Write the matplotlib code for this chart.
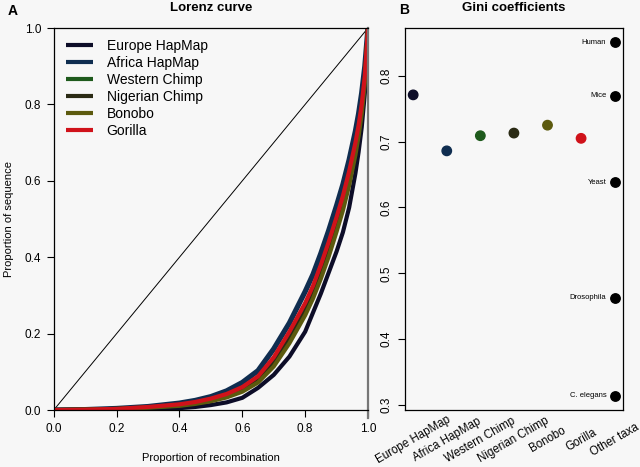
import matplotlib
matplotlib.use("Agg")
import matplotlib.pyplot as plt
import matplotlib.transforms as mtransforms

plt.rcParams['font.family'] = ['Liberation Sans', 'DejaVu Sans']

# Lorenz curves
lorenz_x = [0, 0.1, 0.2, 0.3, 0.4, 0.45, 0.5, 0.55, 0.6, 0.65, 0.7, 0.75,
            0.8, 0.825, 0.85, 0.875, 0.9, 0.92, 0.94, 0.96, 0.97, 0.98, 0.99, 1.0]
europe_y = [0, 0.0, 0.001, 0.003, 0.005, 0.008, 0.013, 0.02, 0.032, 0.058, 0.092, 0.14,
            0.205, 0.255, 0.305, 0.36, 0.415, 0.465, 0.53, 0.62, 0.675, 0.74, 0.83, 1.0]
africa_y = [0, 0.001, 0.004, 0.009, 0.018, 0.025, 0.035, 0.05, 0.072, 0.103, 0.16, 0.228,
            0.31, 0.355, 0.41, 0.47, 0.535, 0.59, 0.655, 0.73, 0.775, 0.83, 0.9, 1.0]
western_y = [0, 0.001, 0.003, 0.007, 0.013, 0.019, 0.027, 0.038, 0.055, 0.082, 0.128, 0.192,
             0.267, 0.312, 0.366, 0.425, 0.49, 0.545, 0.61, 0.688, 0.735, 0.79, 0.868, 1.0]
nigerian_y = [0, 0.001, 0.003, 0.007, 0.012, 0.018, 0.025, 0.036, 0.052, 0.078, 0.122, 0.185,
              0.26, 0.305, 0.358, 0.417, 0.482, 0.537, 0.602, 0.68, 0.728, 0.785, 0.864, 1.0]
bonobo_y = [0, 0.001, 0.002, 0.006, 0.011, 0.016, 0.023, 0.033, 0.048, 0.072, 0.114, 0.175,
            0.248, 0.292, 0.344, 0.402, 0.467, 0.522, 0.588, 0.668, 0.717, 0.775, 0.857, 1.0]
gorilla_y = [0, 0.001, 0.003, 0.008, 0.015, 0.021, 0.03, 0.042, 0.06, 0.088, 0.138, 0.205,
             0.28, 0.325, 0.38, 0.44, 0.505, 0.56, 0.625, 0.7, 0.745, 0.8, 0.875, 1.0]

populations = ["Europe HapMap", "Africa HapMap", "Western Chimp", "Nigerian Chimp", "Bonobo", "Gorilla"]
colors = ["#0d0d28", "#0f2d50", "#1e5a1c", "#2a2a14", "#5c5a0e", "#d0121a"]
curves = [europe_y, africa_y, western_y, nigerian_y, bonobo_y, gorilla_y]
widths = [3, 3.8, 3, 3, 3, 3]

# Gini coefficients
gini = [0.771, 0.686, 0.709, 0.713, 0.725, 0.705]
taxa = ["Human", "Mice", "Yeast", "Drosophila", "C. elegans"]
taxa_gini = [0.851, 0.770, 0.638, 0.463, 0.314]
xlabels = populations + ["Other taxa"]

bg = "#f7f7f7"
fig = plt.figure(figsize=(6.4, 4.67), dpi=100, facecolor=bg)

# --- Panel A: Lorenz curve
ax = fig.add_axes([0.084, 0.122, 0.491, 0.818], facecolor=bg)
ax.plot([0, 1], [0, 1], c="k", lw=0.7)
# Africa first so the others sit on top of it
order = [1, 0, 2, 3, 4, 5]
handles = {}
for i in order:
    ln, = ax.plot(lorenz_x, curves[i], c=colors[i], lw=widths[i],
                  solid_capstyle="butt", solid_joinstyle="round")
    handles[i] = ln
ax.set_xlim(0, 1)
ax.set_ylim(0, 1)
ticks = [0, 0.2, 0.4, 0.6, 0.8, 1.0]
ax.set_xticks(ticks)
ax.set_yticks(ticks)
ax.set_xticklabels(["%.1f" % t for t in ticks])
ax.set_yticklabels(["%.1f" % t for t in ticks])
ax.tick_params(labelsize=8.5, length=5, width=0.8, pad=4)
for s in ["left", "bottom", "top"]:
    ax.spines[s].set_linewidth(0.9)
ax.spines["right"].set_color("#777777")
ax.spines["right"].set_linewidth(1.6)
ax.spines["right"].set_bounds(-0.02, 1)
leg = ax.legend([handles[i] for i in range(6)], populations, loc="upper left",
                frameon=False, fontsize=10, handlelength=1.95, handletextpad=0.95,
                labelspacing=0.22, bbox_to_anchor=(0.0, 1.005))
for h in leg.get_lines():
    h.set_linewidth(3)

fig.text(0.33, 0.019, "Proportion of recombination", fontsize=8, ha="center", va="center")
fig.text(0.014, 0.531, "Proportion of sequence", fontsize=8, ha="center", va="center",
         rotation=90)
fig.text(0.33, 0.983, "Lorenz curve", fontsize=9.5, fontweight="bold", ha="center", va="center")

# --- Panel B: Gini coefficients
bx = fig.add_axes([0.633, 0.122, 0.34, 0.818], facecolor=bg)
pos = list(range(1, len(gini) + 1))
bx.scatter(pos, gini, s=46, c=colors, zorder=3)
other_x = [7] * len(taxa_gini)
bx.scatter(other_x, taxa_gini, s=46, c="k", zorder=3)
for name, g in zip(taxa, taxa_gini):
    bx.annotate(name, (7, g), xytext=(-6, 0), textcoords="offset points",
                ha="right", va="center", fontsize=5.5)
bx.set_xlim(0.76, 7.24)
bx.set_ylim(0.2925, 0.8725)
yt = [0.3, 0.4, 0.5, 0.6, 0.7, 0.8]
bx.set_yticks(yt)
bx.set_yticklabels(["%.1f" % t for t in yt], rotation=90, va="center")
bx.set_xticks([])
bx.tick_params(labelsize=8.5, length=5, width=0.8, pad=4)
for s in bx.spines.values():
    s.set_linewidth(0.9)
trans = mtransforms.blended_transform_factory(bx.transData, bx.transAxes)
for i, lab in enumerate(xlabels):
    bx.text(i + 1, -0.078, lab, rotation=30, ha="center", va="center",
            fontsize=8.3, transform=trans)
fig.text(0.803, 0.983, "Gini coefficients", fontsize=9.5, fontweight="bold",
         ha="center", va="center")

fig.text(0.012, 0.976, "A", fontsize=10, fontweight="bold", va="center")
fig.text(0.624, 0.979, "B", fontsize=10, fontweight="bold", va="center")

fig.savefig("out.png", dpi=100, facecolor=bg)
